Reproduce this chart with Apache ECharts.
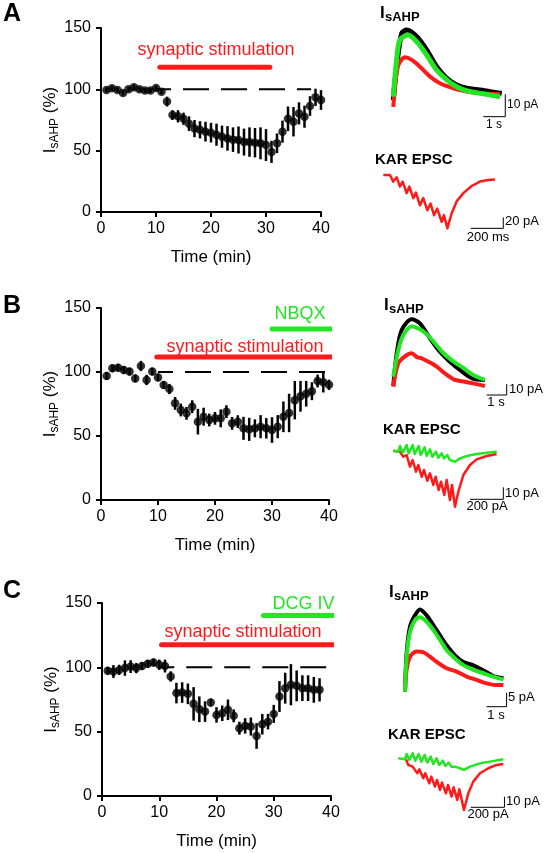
<!DOCTYPE html>
<html><head><meta charset="utf-8">
<script src="https://cdn.jsdelivr.net/npm/echarts@6/dist/echarts.min.js"></script>
<style>html,body{margin:0;padding:0;background:#fff}#c{width:547px;height:853px}</style>
</head><body><div id="c"></div>
<script>
const FONT = '"Liberation Sans", Arial, sans-serif';
const RED = '#ff1a1a', GREEN = '#22e622', BLACK = '#000';

// ---------- time-course data (min, % of baseline, s.e.m.) ----------
const timeA = [1,2,3,4,5,6,7,8,9,10,11,12,13,14,15,16,17,18,19,20,21,22,23,24,25,26,27,28,29,30,31,32,33,34,35,36,37,38,39,40];
const valueA = [99.5,100.8,99.5,97,100,101.6,100,99,99,101,98,90,79,78,76,72,68,67,65.5,64.7,63,61.4,60,59,58.7,57,57,56.5,56,54.6,49,56,65.5,76,73.6,80.4,77.7,86.4,93.5,91.3];
const errA = [2,2,2,2,2,2,2,2,2,2,2,4,4,5,5,6,7,7,8,8,9,9,10,10,11,11,12,12,13,13,9,8,9,10,12,9,9,8,7,8];

const timeB = [1,2,3,4,5,6,7,8,9,10,11,12,13,14,15,16,17,18,19,20,21,22,23,24,25,26,27,28,29,30,31,32,33,34,35,36,37,38,39,40];
const valueB = [96.9,102.9,103.4,101.6,100.3,95,104.7,93.8,100.3,95.8,89.8,86.7,75.5,70.3,67.7,72.9,61.2,65.1,62.5,63.8,63.8,69,59.9,61.2,56,55.2,56,57.3,56,54.7,57.3,65,68,78,81,83,85,93,92,90];
const errB = [3,3,3,3,3,3,4,4,3,3,3,4,5,5,5,5,10,7,5,5,7,5,5,5,9,9,7,9,8,10,9,12,15,15,12,10,7,5,8,4];

const timeC = [1,2,3,4,5,6,7,8,9,10,11,12,13,14,15,16,17,18,19,20,21,22,23,24,25,26,27,28,29,30,31,32,33,34,35,36,37,38];
const valueC = [97.3,96.8,98,99.4,100.6,99.4,101,102.7,103.8,102,101,92.9,80,80.4,79.4,71.6,67.4,65.6,72.6,63,64.3,67,62.3,52.7,54.5,54,46.7,55.8,57.8,63.8,77.3,83.8,86.5,85.6,83.8,83.8,82.5,82.5];
const errC = [3,5,4,6,5,4,3,3,3,4,5,4,8,8,8,13,10,8,3,6,6,8,5,5,6,7,10,8,6,7,12,12,16,12,10,10,10,9];

const xTicks = [0,10,20,30,40];
const yTicks = [0,50,100,150];

// baseline reference and application bars: [start min, end min, level %]
const baselineA = [10, 38.2, 100];
const baselineB = [10, 40, 100];
const baselineC = [10, 40, 100];
const stimA = [10.7, 30.7, 118];
const stimB = [9.8, 41.4, 111.7];
const nbqxB = [30, 41, 133.6];
const stimC = [10.4, 40.8, 117.5];
const dcgC = [28.2, 40.8, 140.3];

// ---------- example traces: [time, current] ----------
// IsAHP traces: s, pA
const ahpA_black = [[0,3.2],[0.15,18.3],[0.38,33.5],[0.61,35],[1.06,32],[1.52,25.9],[1.97,18.3],[2.43,13],[2.88,10],[3.33,8.5],[3.94,7.7],[4.39,7],[4.93,6.2]];
const ahpA_green = [[0,4.7],[0.15,21.4],[0.3,30.4],[0.68,32.7],[1.06,29.7],[1.52,23.6],[1.97,16.8],[2.43,12.3],[2.88,9.2],[3.33,7.4],[3.94,6.2],[4.85,4.7]];
const ahpA_red = [[0,0],[0.08,9.2],[0.23,19],[0.53,22.6],[0.84,21.4],[1.21,18.3],[1.67,13.8],[2.12,10.8],[2.73,8.5],[3.33,7],[4.09,6.2],[4.85,5.8]];
const ahpB_black = [[0,1],[0.17,30.6],[0.42,51.8],[0.92,61.5],[1.33,57.9],[1.83,44.3],[2.33,32.1],[2.83,23],[3.33,15.5],[3.95,7.9],[4.58,6.4]];
const ahpB_green = [[0,9.4],[0.25,33.6],[0.5,47.3],[0.92,55.1],[1.5,50.6],[2,41.5],[2.5,30.9],[3,23.3],[3.5,17.3],[4,10.9],[4.58,6.4]];
const ahpB_red = [[0,0.3],[0.25,21.5],[0.6,28],[0.92,30.6],[1.2,27],[1.42,26.1],[1.75,23],[2.17,18.5],[2.58,12.4],[3.08,6.4],[3.58,4.8],[4,3.3],[4.58,0.9]];
const ahpC_black = [[0,0.1],[0.08,13.8],[0.25,23.3],[0.5,27.4],[0.75,29.5],[1.08,27.4],[1.42,23.8],[1.75,20.2],[2.08,16.7],[2.5,13.1],[2.92,10.7],[3.42,9.5],[3.92,7.7],[4.42,5.7],[4.92,4.9]];
const ahpC_green = [[0,0.1],[0.08,12.6],[0.25,21.5],[0.5,25.7],[0.75,26.7],[1.08,25.1],[1.42,22.1],[1.75,18.6],[2.08,15],[2.5,12],[2.92,9.6],[3.42,7.9],[3.92,6.7],[4.42,5.5],[4.92,4.5]];
const ahpC_red = [[0,0.1],[0.08,7.9],[0.25,12.6],[0.58,14.5],[0.92,14.2],[1.25,12.6],[1.58,10.8],[2.08,8.5],[2.58,7.3],[3.08,5.5],[3.58,4.3],[4.08,3.1],[4.58,2.5],[4.92,2.5]];

// KAR EPSC traces: ms, pA
const karA_red = [[0,0],[41,0],[61,-12],[82,-4],[102,-21],[119,-12],[143,-33],[160,-21],[184,-42],[200,-32],[225,-55],[245,-42],[270,-64],[290,-52],[311,-73],[331,-61],[358,-85],[372,-73],[393,-97],[419,-70],[450,-48],[491,-33],[542,-20],[593,-12],[644,-9],[685,-8]];
const karB_red = [[0,0],[40,-0.8],[60,-5],[80,-3.6],[100,-13.3],[116,-7.8],[136,-17.5],[150,-11.9],[170,-21.7],[184,-16.1],[204,-25],[220,-18.9],[240,-28.6],[254,-21.7],[272,-32.8],[286,-25.8],[306,-36.9],[320,-24.4],[340,-41.1],[352,-28.6],[370,-46.7],[390,-34.2],[420,-20.3],[460,-11.9],[500,-7.2],[560,-4.4],[620,-2.8]];
const karB_green = [[0,0],[30,-0.8],[40,3.9],[56,-1.7],[80,4.7],[92,-2.2],[116,4.7],[128,-2.8],[152,3.9],[164,-3.6],[188,2.8],[200,-4.4],[220,1.1],[234,-5],[256,-0.8],[270,-5.8],[290,-2.2],[304,-6.4],[324,-3.6],[340,-7.8],[370,-9.2],[400,-6.4],[440,-4.4],[500,-2.8],[560,-1.7],[620,-0.8]];
const karC_red = [[45.5,-0.9],[59.3,-6.2],[85,-7.8],[112.8,-14],[124.6,-10.3],[148.4,-18.7],[160.2,-14],[184,-23.4],[195.8,-17.1],[217.6,-26.5],[229.5,-20.2],[247.3,-29.6],[259.1,-22.7],[282.9,-32.7],[294.8,-24.9],[316.5,-35.8],[328.4,-27.1],[350.1,-38.9],[362,-29],[389.7,-48.3],[415.4,-32.7],[445.1,-21.8],[484.7,-14],[534.1,-9.3],[583.6,-6.2],[623.1,-5.3]];
const karC_green = [[0,0],[39.6,-0.9],[49.5,4],[65.3,-1.6],[85,4.7],[100.9,-2.2],[120.7,4],[136.5,-3.1],[156.3,3.1],[172.1,-4],[191.9,1.6],[207.7,-5.3],[227.5,0],[243.3,-6.2],[263.1,-2.2],[279,-7.2],[298.7,-4],[314.5,-7.8],[336.3,-7.8],[366,-9.3],[389.7,-10.9],[425.3,-7.8],[484.7,-4.7],[544,-3.1],[623.1,-0.9]];

// scale bars: [[x0,y0],[x1,y0],[x1,y1]] in trace units
const barAhpA = [[4.09,-4.4],[5.09,-4.4],[5.09,5.8]];
const barKarA = [[536,-97],[736,-97],[736,-77]];
const barAhpB = [[4.67,-7.3],[5.67,-7.3],[5.67,2.7]];
const barKarB = [[460,-40.5],[660,-40.5],[660,-30.5]];
const barAhpC = [[4.08,-5.25],[5.08,-5.25],[5.08,-0.25]];
const barKarC = [[430,-45.8],[630,-45.8],[630,-35.9]];

// ---------- layout ----------
const grids = [
  {left:101, top:28, width:220, height:184},      // 0 A main
  {left:101, top:308, width:228, height:192},     // 1 B main
  {left:102, top:603, width:229, height:193},     // 2 C main
  {left:393.3, top:19, width:121, height:110},    // 3 A ahp
  {left:383.3, top:169.5, width:122.25, height:66}, // 4 A kar
  {left:393.3, top:310, width:120, height:93.5},  // 5 B ahp
  {left:393.3, top:438.7, width:116.7, height:84},// 6 B kar
  {left:405, top:602.4, width:110, height:106.4}, // 7 C ahp
  {left:398.3, top:747.6, width:117.95, height:74.9} // 8 C kar
];
const traceRanges = [
  null,null,null,
  [0,5.5,-10,40],[0,750,-110,10],[0,6,-15,70],[0,700,-60,10],[0,5.5,-6,32],[0,700,-60,10]
];

const xAxes = [], yAxes = [];
for (let g = 0; g < 3; g++) {
  xAxes.push({gridIndex:g, type:'value', min:xTicks[0], max:xTicks[xTicks.length-1], interval:10,
    name:'Time (min)', nameLocation:'middle', nameGap:37,
    nameTextStyle:{fontSize:17, color:BLACK, fontFamily:FONT},
    axisLine:{show:true, onZero:false, lineStyle:{color:BLACK, width:2}},
    axisTick:{show:true, length:5, inside:false, lineStyle:{color:BLACK, width:2}},
    axisLabel:{fontSize:16, color:BLACK, margin:9, fontFamily:FONT},
    splitLine:{show:false}});
  yAxes.push({gridIndex:g, type:'value', min:yTicks[0], max:yTicks[yTicks.length-1], interval:50,
    name:'{n|I}{s|sAHP}{n| (%)}', nameLocation:'middle', nameGap:40, nameRotate:90,
    nameTextStyle:{fontSize:17, color:BLACK, fontFamily:FONT,
      rich:{n:{fontSize:17, color:BLACK, fontFamily:FONT, verticalAlign:'top', lineHeight:19},
            s:{fontSize:12, color:BLACK, fontFamily:FONT, verticalAlign:'bottom', lineHeight:14, padding:[6,0,0,0]}}},
    axisLine:{show:true, onZero:false, lineStyle:{color:BLACK, width:2}},
    axisTick:{show:true, length:5, lineStyle:{color:BLACK, width:2}},
    axisLabel:{fontSize:16, color:BLACK, margin:10, fontFamily:FONT},
    splitLine:{show:false}});
}
for (let g = 3; g < 9; g++) {
  const r = traceRanges[g];
  xAxes.push({gridIndex:g, type:'value', min:r[0], max:r[1], show:false, splitLine:{show:false}});
  yAxes.push({gridIndex:g, type:'value', min:r[2], max:r[3], show:false, splitLine:{show:false}});
}

const series = [];
function hLine(g, seg, color, width, dashed) {
  series.push({type:'line', xAxisIndex:g, yAxisIndex:g, data:[[seg[0],seg[2]],[seg[1],seg[2]]],
    symbol:'none', clip:false, silent:true, z:1,
    lineStyle:{color:color, width:width, type: dashed ? [26,12] : 'solid', dashOffset: dashed ? 11 : 0, cap: dashed ? 'butt' : 'round'}});
}
function timeCourse(g, t, v, e) {
  series.push({type:'custom', xAxisIndex:g, yAxisIndex:g, z:2,
    data:t.map((x,i)=>[x, v[i], e[i]]), encode:{x:0, y:1},
    renderItem:function(params, api){
      const x = api.value(0), y = api.value(1), er = api.value(2);
      const p1 = api.coord([x, y - er]), p2 = api.coord([x, y + er]);
      return {type:'line', shape:{x1:p1[0], y1:p1[1], x2:p2[0], y2:p2[1]}, style:{stroke:BLACK, lineWidth:2.5}};
    }});
  series.push({type:'scatter', xAxisIndex:g, yAxisIndex:g, z:3, symbol:'circle', symbolSize:8.5,
    itemStyle:{color:BLACK}, data:t.map((x,i)=>[x, v[i]])});
}
function trace(g, data, color, width, smooth) {
  series.push({type:'line', xAxisIndex:g, yAxisIndex:g, data:data, symbol:'none', smooth:smooth || false,
    clip:false, lineStyle:{color:color, width:width, join:'round'}});
}

// Panel A
hLine(0, baselineA, BLACK, 2, true);
hLine(0, stimA, RED, 5, false);
timeCourse(0, timeA, valueA, errA);
// Panel B
hLine(1, baselineB, BLACK, 2, true);
hLine(1, stimB, RED, 5, false);
hLine(1, nbqxB, GREEN, 5, false);
timeCourse(1, timeB, valueB, errB);
// Panel C
hLine(2, baselineC, BLACK, 2, true);
hLine(2, stimC, RED, 5, false);
hLine(2, dcgC, GREEN, 5, false);
timeCourse(2, timeC, valueC, errC);

// traces
trace(3, ahpA_black, BLACK, 5, 0.3); trace(3, ahpA_red, RED, 4, 0.3); trace(3, ahpA_green, GREEN, 5, 0.3);
trace(3, barAhpA, BLACK, 1);
trace(4, karA_red, RED, 2.5); trace(4, barKarA, BLACK, 1);
trace(5, ahpB_black, BLACK, 4, 0.3); trace(5, ahpB_red, RED, 4, 0.3); trace(5, ahpB_green, GREEN, 4, 0.3);
trace(5, barAhpB, BLACK, 1);
trace(6, karB_red, RED, 2.5); trace(6, karB_green, GREEN, 2.5); trace(6, barKarB, BLACK, 1);
trace(7, ahpC_black, BLACK, 4, 0.3); trace(7, ahpC_red, RED, 4, 0.3); trace(7, ahpC_green, GREEN, 4, 0.3);
trace(7, barAhpC, BLACK, 1);
trace(8, karC_red, RED, 2.5); trace(8, karC_green, GREEN, 2.5); trace(8, barKarC, BLACK, 1);

// ---------- text ----------
function txt(x, y, text, size, color, align, weight) {
  return {type:'text', x:x, y:y, silent:true, z:10,
    style:{text:text, fill:color, font:(weight||'normal') + ' ' + size + 'px ' + FONT,
      align:align||'left', textAlign:align||'left', verticalAlign:'middle', textVerticalAlign:'middle'}};
}
function ahpTitle(x, y) {
  // "I" with subscript "sAHP"; (x, y) = left / vertical centre of the "I"
  return [txt(x, y, 'I', 17, BLACK, 'left', 'bold'), txt(x + 5, y + 4, 'sAHP', 13, BLACK, 'left', 'bold')];
}
const graphic = [
  txt(3, 14, 'A', 25, BLACK, 'left', 'bold'),
  txt(3, 306.5, 'B', 25, BLACK, 'left', 'bold'),
  txt(3, 591.5, 'C', 25, BLACK, 'left', 'bold'),
  txt(216, 50, 'synaptic stimulation', 18, RED, 'center'),
  txt(245, 347, 'synaptic stimulation', 18, RED, 'center'),
  txt(300, 314, 'NBQX', 18, GREEN, 'center'),
  txt(243, 632, 'synaptic stimulation', 18, RED, 'center'),
  txt(303.5, 604, 'DCG IV', 18, GREEN, 'center'),
  ...ahpTitle(380, 13), ...ahpTitle(384, 305), ...ahpTitle(389, 592),
  txt(375, 160, 'KAR EPSC', 15, BLACK, 'left', 'bold'),
  txt(383, 430, 'KAR EPSC', 15, BLACK, 'left', 'bold'),
  txt(388, 735, 'KAR EPSC', 15, BLACK, 'left', 'bold'),
  txt(507, 105, '10 pA', 12, BLACK, 'left'),
  txt(494, 125, '1 s', 12, BLACK, 'center'),
  txt(505, 221, '20 pA', 13, BLACK, 'left'),
  txt(488, 237, '200 ms', 13, BLACK, 'center'),
  txt(509, 389, '10 pA', 13, BLACK, 'left'),
  txt(496, 402, '1 s', 13, BLACK, 'center'),
  txt(505, 493, '10 pA', 13, BLACK, 'left'),
  txt(487, 506, '200 pA', 13, BLACK, 'center'),
  txt(508, 697, '5 pA', 13, BLACK, 'left'),
  txt(496, 715, '1 s', 13, BLACK, 'center'),
  txt(506, 801, '10 pA', 13, BLACK, 'left'),
  txt(488, 814, '200 pA', 13, BLACK, 'center')
];

const chart = echarts.init(document.getElementById('c'), null, {renderer:'canvas'});
chart.setOption({
  animation:false,
  backgroundColor:'#fff',
  textStyle:{fontFamily:FONT},
  grid:grids, xAxis:xAxes, yAxis:yAxes, series:series, graphic:graphic
});
</script></body></html>
